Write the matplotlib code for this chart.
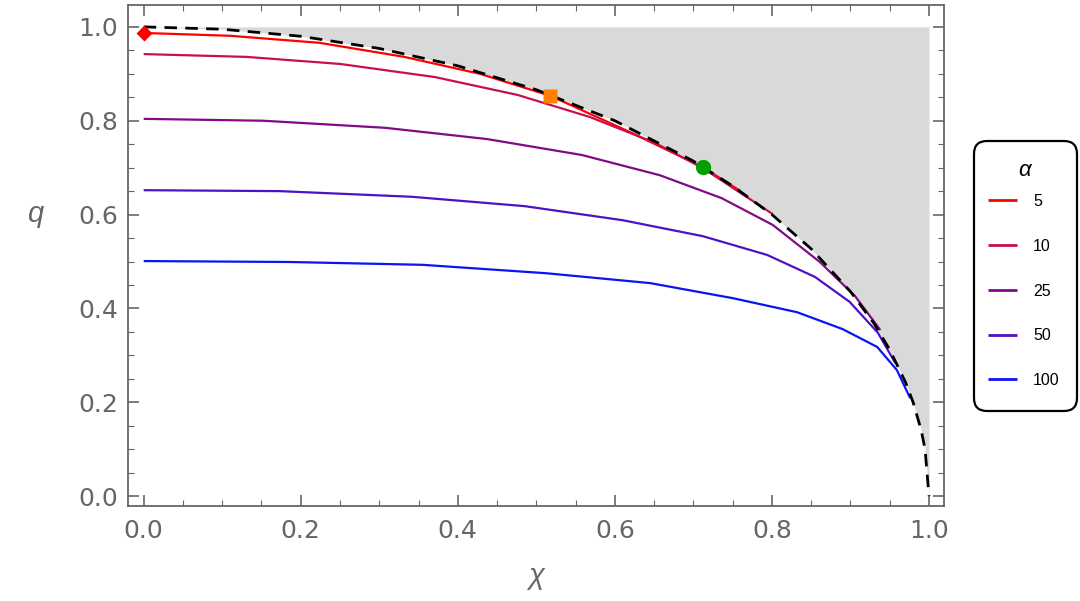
import matplotlib
matplotlib.use("Agg")
import matplotlib.pyplot as plt
from matplotlib.ticker import MultipleLocator
from matplotlib.patches import FancyBboxPatch
from matplotlib.transforms import IdentityTransform

# ---- data ----
alphas = ["5", "10", "25", "50", "100"]
colors = ["#ff0000", "#c8104e", "#820a86", "#5010c4", "#0a14f5"]

chi_a5 = [0.0, 0.110, 0.224, 0.332, 0.428, 0.518, 0.619, 0.712, 0.760]
q_a5 = [0.987, 0.981, 0.966, 0.936, 0.900, 0.853, 0.776, 0.701, 0.650]

chi_a10 = [0.0, 0.131, 0.250, 0.371, 0.476, 0.568, 0.651, 0.712, 0.801]
q_a10 = [0.942, 0.936, 0.921, 0.893, 0.855, 0.808, 0.753, 0.699, 0.601]

chi_a25 = [0.0, 0.152, 0.307, 0.437, 0.558, 0.657, 0.736, 0.801, 0.861, 0.906, 0.938]
q_a25 = [0.804, 0.800, 0.785, 0.761, 0.727, 0.684, 0.635, 0.578, 0.499, 0.426, 0.354]

chi_a50 = [0.0, 0.173, 0.341, 0.485, 0.610, 0.712, 0.794, 0.855, 0.899, 0.935, 0.957]
q_a50 = [0.652, 0.650, 0.638, 0.618, 0.588, 0.554, 0.514, 0.467, 0.414, 0.348, 0.284]

chi_a100 = [0.0, 0.186, 0.355, 0.513, 0.645, 0.750, 0.832, 0.890, 0.934, 0.959, 0.976]
q_a100 = [0.501, 0.499, 0.493, 0.475, 0.454, 0.422, 0.392, 0.356, 0.318, 0.269, 0.209]

chi_bound = [0.0, 0.1, 0.2, 0.3, 0.4, 0.5, 0.6, 0.7, 0.75, 0.8, 0.85, 0.9,
             0.93, 0.95, 0.97, 0.98, 0.99, 0.995, 1.0]
q_bound = [1.0, 0.995, 0.980, 0.954, 0.917, 0.866, 0.800, 0.714, 0.661, 0.600,
           0.527, 0.436, 0.368, 0.312, 0.243, 0.199, 0.141, 0.100, 0.0]

pt_diamond = (0.0, 0.987)
pt_square = (0.518, 0.853)
pt_circle = (0.712, 0.701)

series_chi = [chi_a5, chi_a10, chi_a25, chi_a50, chi_a100]
series_q = [q_a5, q_a10, q_a25, q_a50, q_a100]

gray = "#666666"
plt.rcParams["font.family"] = ["DejaVu Sans"]

fig = plt.figure(figsize=(10.8, 6.01), dpi=100)
ax = fig.add_axes([0.1185, 0.158, 0.7555, 0.834])

ax.fill_between(chi_bound, q_bound, 1.0, color="#d9d9d9", lw=0, zorder=1)

for c, q, col, lab in zip(series_chi, series_q, colors, alphas):
    ax.plot(c, q, color=col, lw=1.6, label=lab, zorder=3,
            solid_joinstyle="round", solid_capstyle="butt")

ax.plot(chi_bound, q_bound, color="black", lw=2.0, ls=(0, (4.5, 3.0)), zorder=4)

ax.plot([pt_diamond[0]], [pt_diamond[1]], marker="D", ms=8, color="#ff0000",
        mec="none", zorder=6, clip_on=False)
ax.plot([pt_square[0]], [pt_square[1]], marker="s", ms=10, color="#ff8000",
        mec="none", zorder=6)
ax.plot([pt_circle[0]], [pt_circle[1]], marker="o", ms=11, color="#00a000",
        mec="none", zorder=6)

ax.set_xlim(-0.02, 1.019)
ax.set_ylim(-0.021, 1.047)

ax.xaxis.set_major_locator(MultipleLocator(0.2))
ax.xaxis.set_minor_locator(MultipleLocator(0.05))
ax.yaxis.set_major_locator(MultipleLocator(0.2))
ax.yaxis.set_minor_locator(MultipleLocator(0.05))
ax.xaxis.set_major_formatter(plt.FuncFormatter(lambda v, p: f"{v:.1f}"))
ax.yaxis.set_major_formatter(plt.FuncFormatter(lambda v, p: f"{v:.1f}"))

ax.tick_params(which="both", direction="in", top=True, right=True,
               color=gray, labelcolor=gray, labelsize=18)
ax.tick_params(which="major", length=8, width=1.2, pad=7)
ax.tick_params(which="minor", length=4, width=0.8)
ax.tick_params(axis="x", which="major", pad=9)
for s in ax.spines.values():
    s.set_color(gray)
    s.set_linewidth(1.3)

ax.set_xlabel("χ", fontsize=21, color=gray, fontstyle="italic",
              family="Liberation Sans", labelpad=14)
ax.set_ylabel("q", fontsize=21, color=gray, fontstyle="italic",
              family="Liberation Sans", rotation=0)
ax.yaxis.set_label_coords(-0.114, 0.555)

# legend: frame + title drawn in pixel coordinates, entries via legend
frame = FancyBboxPatch((974, 601 - 411), 103, 270,
                       boxstyle="round,pad=0,rounding_size=13",
                       transform=IdentityTransform(), facecolor="white",
                       edgecolor="black", linewidth=1.6, zorder=5)
fig.add_artist(frame)
fig.text(1025 / 1080, 1 - 170 / 601, "α", fontsize=16, fontstyle="italic",
         family="Liberation Sans", ha="center", va="center", zorder=7)

handles, labels = ax.get_legend_handles_labels()
leg = fig.legend(handles, labels, loc="center",
                 bbox_to_anchor=(1024 / 1080, 1 - 291 / 601), frameon=False,
                 prop={"family": "Liberation Sans", "size": 11.5},
                 handlelength=1.8, handletextpad=1.0, labelspacing=1.86,
                 borderpad=0, borderaxespad=0)
leg.set_zorder(8)
for line in leg.get_lines():
    line.set_linewidth(2.0)

fig.savefig("out.png", dpi=100)
